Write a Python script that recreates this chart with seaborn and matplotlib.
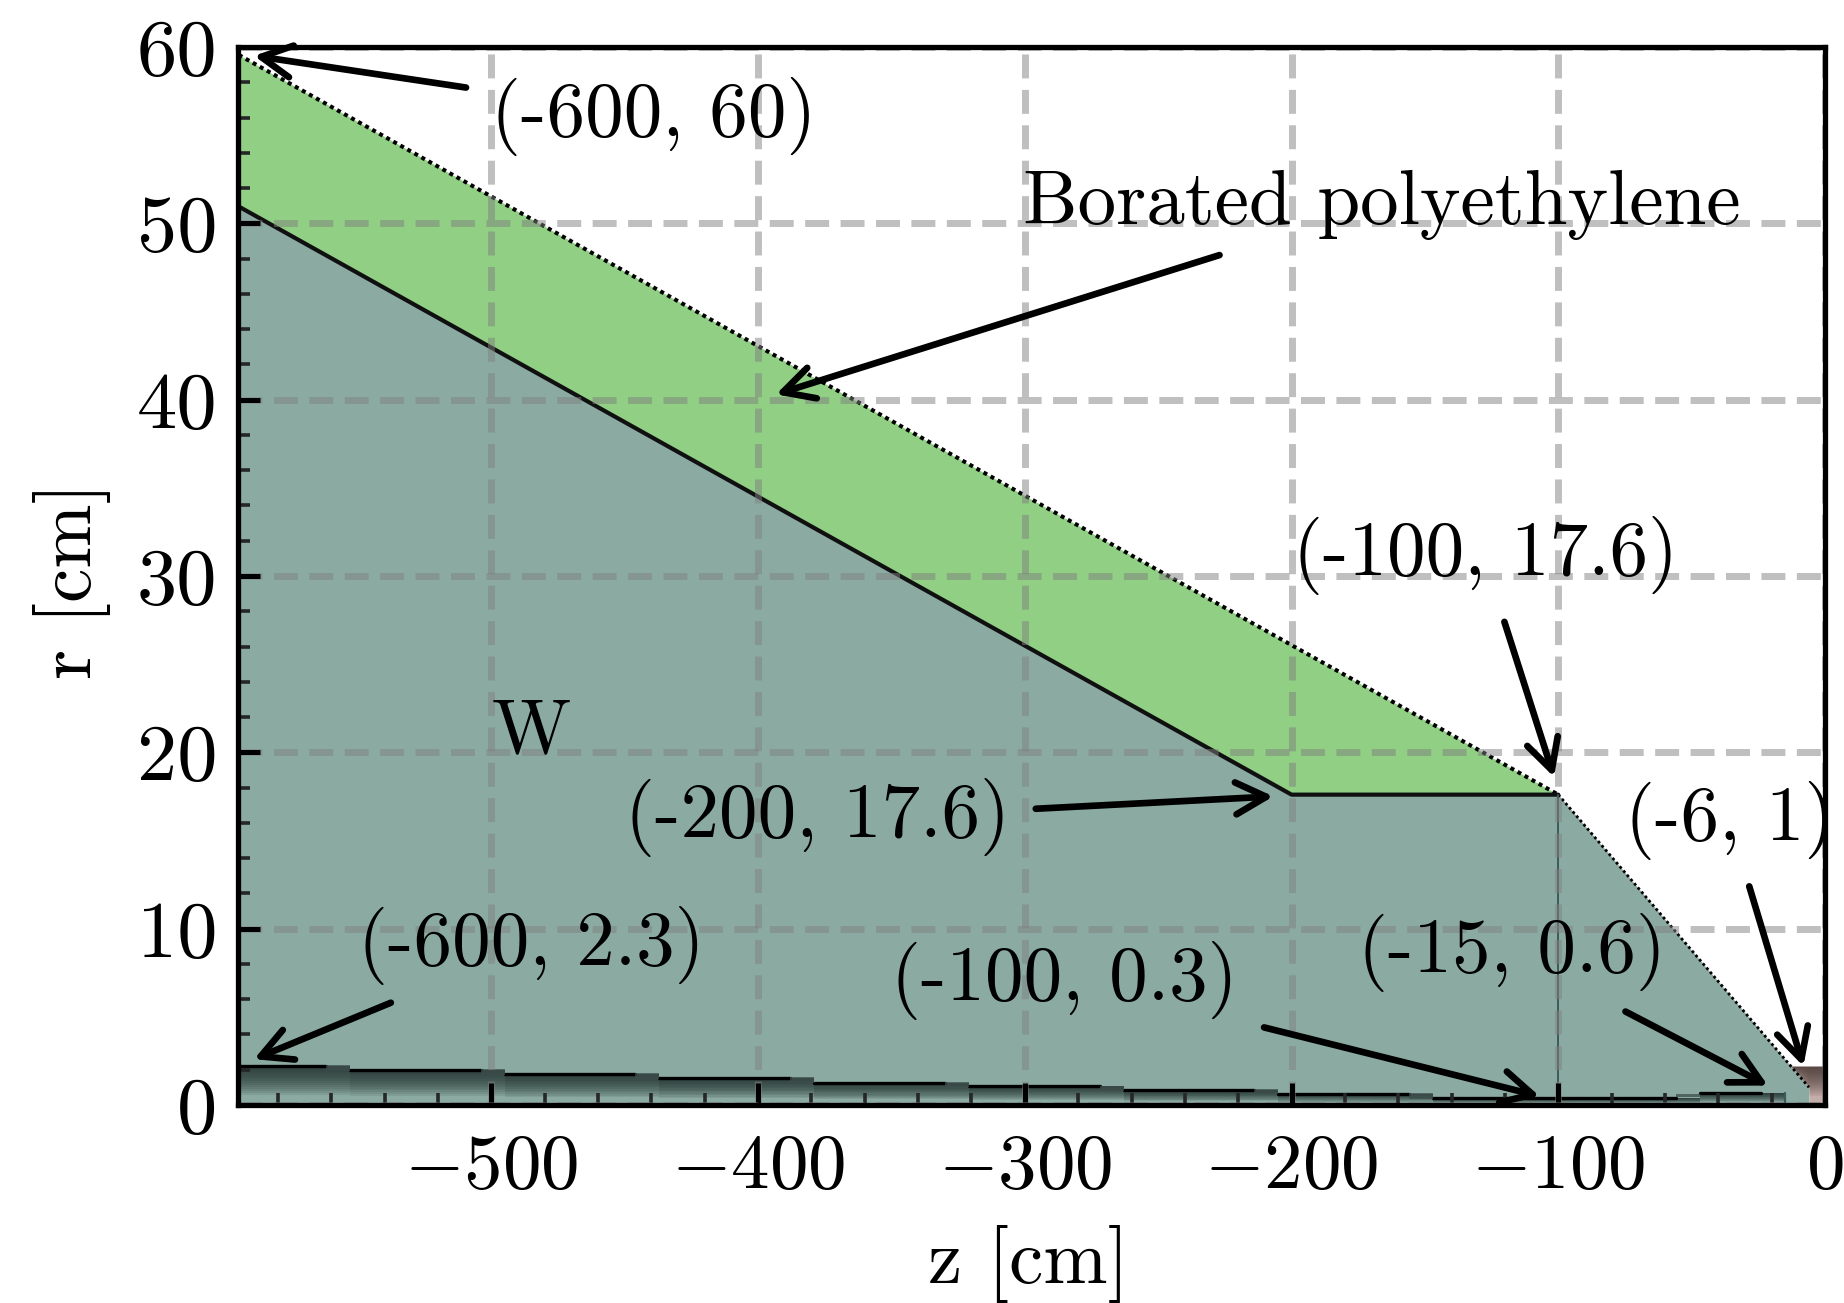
import numpy as np
import seaborn as sns
import matplotlib.pyplot as plt
from matplotlib.ticker import MultipleLocator

# outer shape of the shield
outer_z = [-600, -100, -6]
outer_r = [60, 17.6, 1]
inner_z = [-600, -200, -100]
inner_r = [51.4, 17.6, 17.6]

# stepped inner channel
channel_z = [-600, -553, -495, -437, -379, -321, -263, -205, -147, -47, -15, -6]
channel_r = [2.2, 2.0, 1.75, 1.53, 1.27, 1.05, 0.85, 0.65, 0.4, 0.7, 0.95, 0.95]

# brown tip near z = 0
tip_z = [-12.8, -6, -6, 0]
tip_low = [2.2, 1, 0, 0]
tip_top = 2.2

xtick_vals = [-500, -400, -300, -200, -100, 0]
xtick_labels = [r"$-500$", r"$-400$", r"$-300$", r"$-200$", r"$-100$", r"$0$"]
ytick_vals = [0, 10, 20, 30, 40, 50, 60]

# text, left edge z, centre r
labels = [
    ("(-600, 60)", -500.2, 56.05),
    ("Borated polyethylene", -300.6, 51.05),
    ("(-100, 17.6)", -199.5, 31.15),
    ("W", -500, 21.1),
    ("(-200, 17.6)", -450, 16.3),
    ("(-6, 1)", -75, 16.15),
    ("(-600, 2.3)", -550, 9.05),
    ("(-15, 0.6)", -175, 8.65),
    ("(-100, 0.3)", -350, 7.05),
]

# tail z, tail r, head z, head r
arrows = [
    (-509.5, 57.7, -589, 59.5),
    (-227, 48.2, -393.3, 40.3),
    (-120.2, 27.4, -101.6, 18.6),
    (-295.9, 16.8, -206.8, 17.5),
    (-537.7, 5.8, -589, 2.6),
    (-210.3, 4.4, -107, 0.5),
    (-74.8, 5.3, -21.4, 1.1),
    (-28.4, 12.4, -8.1, 2.2),
]

TEAL = "#8babA2"
GREEN = "#90cf84"
BROWN = "#c4aca8"
DARK = "#1c2a28"
FS = 55.5

sns.set_theme(style="ticks")
plt.rcParams["font.family"] = ["cmr10"]
plt.rcParams["mathtext.fontset"] = "cm"
plt.rcParams["axes.unicode_minus"] = True

fig = plt.figure(figsize=(18.44, 13.03), dpi=100)
ax = fig.add_axes([238 / 1844, 1 - 1105 / 1303, (1825 - 238) / 1844, (1105 - 47) / 1303])

# regions
w_z = [-600, -200, -100, -6, -6]
w_r = [51.4, 17.6, 17.6, 1, 0]
ax.fill_between(w_z, 0, w_r, color=TEAL, lw=0, zorder=1)
ax.fill_between(inner_z, inner_r, np.interp(inner_z, outer_z, outer_r), color=GREEN, lw=0, zorder=1)
ax.fill_between(tip_z, tip_low, tip_top, color=BROWN, lw=0, zorder=1)

# dark shading under the channel wall and in the tip
ch_z = np.array(channel_z)
ch_r = np.array(channel_r)
for f in np.linspace(0.25, 0.95, 14):
    ax.fill_between(ch_z[:-1], f * ch_r[:-1], ch_r[:-1], step="post", color=DARK, alpha=0.105, lw=0, zorder=1.2)
    ax.fill_between(tip_z, np.maximum(tip_low, f * tip_top), tip_top, color="#3a2a28", alpha=0.09, lw=0, zorder=1.2)

# channel wall, blurred at every step
for i in range(len(channel_z) - 1):
    ax.plot([channel_z[i], channel_z[i + 1] - 9], [channel_r[i]] * 2, color="black", lw=2.4, zorder=1.5)
    if 0 < i < 10:
        ax.fill_between([channel_z[i] - 9, channel_z[i]], channel_r[i] - 0.05, channel_r[i - 1] + 0.05,
                        color="#3c4c4a", alpha=0.75, lw=0, zorder=1.5)
ax.plot([-15, -15], [0, 0.7], color="#3e5a58", lw=1.6, zorder=1.5)

sns.lineplot(x=outer_z[:2], y=outer_r[:2], ax=ax, sort=False, estimator=None, color="black", lw=2.9,
             linestyle=(0, (1, 1)), zorder=2)
sns.lineplot(x=outer_z[1:], y=outer_r[1:], ax=ax, sort=False, estimator=None, color="black", lw=2.0,
             linestyle=(0, (1, 1)), zorder=2)
sns.lineplot(x=inner_z, y=inner_r, ax=ax, sort=False, estimator=None, color="#101010", lw=3.0, zorder=2)
sns.lineplot(x=[-100, -100], y=[17.6, 0], ax=ax, sort=False, estimator=None, color="#3e5a58", lw=1.4, zorder=2)

ax.set_xlim(-595, 0)
ax.set_ylim(0, 60)
ax.set_xticks(xtick_vals)
ax.set_xticklabels(xtick_labels)
ax.set_yticks(ytick_vals)
ax.xaxis.set_minor_locator(MultipleLocator(20))
ax.yaxis.set_minor_locator(MultipleLocator(2))
ax.set_axisbelow(False)
ax.grid(True, which="major", color="gray", alpha=0.5, lw=5, linestyle=(0, (3.45, 1.65)), zorder=3)

ax.tick_params(axis="both", which="major", direction="in", length=16, width=3.6, labelsize=FS, color="black",
               labelcolor="black", top=False, right=False)
ax.tick_params(axis="both", which="minor", direction="in", length=8.5, width=2.6, top=False, right=False,
               bottom=True, left=True)
ax.tick_params(axis="x", which="major", pad=21)
ax.tick_params(axis="y", which="major", pad=15, labelsize=58)
for s in ax.spines.values():
    s.set_linewidth(3.8)
    s.set_color("black")
    s.set_zorder(6)

ax.set_xlabel("z [cm]", fontsize=FS, va="center", color="black")
ax.set_ylabel("r [cm]", fontsize=FS, va="center", color="black")
ax.xaxis.set_label_coords(0.498, -0.150)
ax.yaxis.set_label_coords(-0.1046, 0.496)

for txt, z, r in labels:
    ax.text(z, r, txt, fontsize=FS, ha="left", va="center", color="black", zorder=7, clip_on=False)

for z0, r0, z1, r1 in arrows:
    ax.annotate("", xy=(z1, r1), xytext=(z0, r0),
                arrowprops=dict(arrowstyle="->,head_length=2.2,head_width=1.15", mutation_scale=10, color="black",
                                lw=4.8, shrinkA=0, shrinkB=0, capstyle="round", joinstyle="round"), zorder=8)

fig.savefig("out.png", dpi=100)
